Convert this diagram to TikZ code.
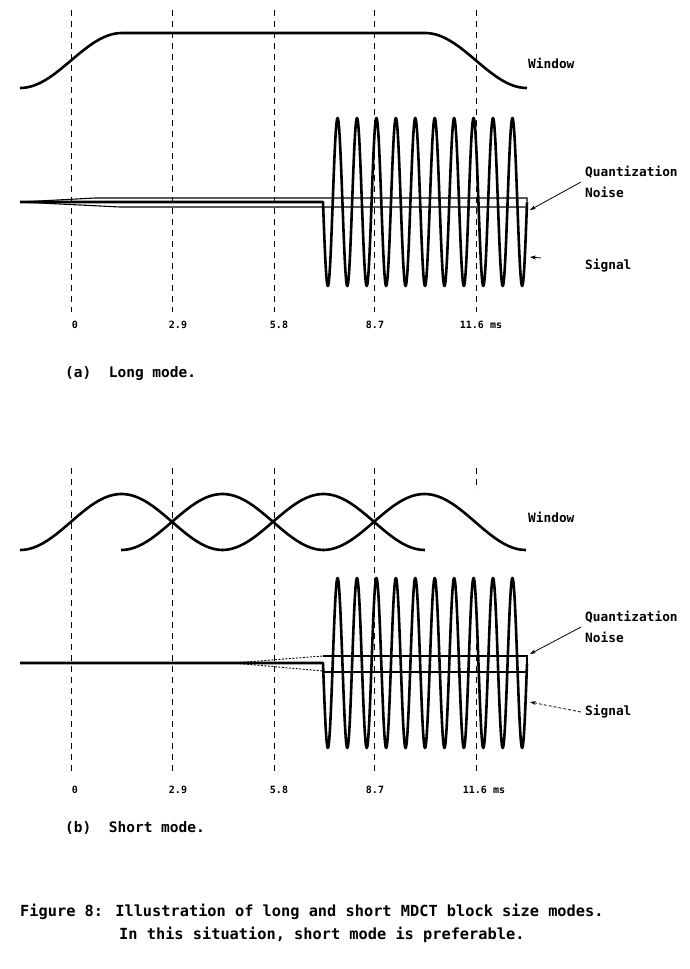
\documentclass[tikz,border=0pt]{standalone}
\usepackage{fontspec}
\newfontfamily\plotfont{DejaVu Sans Mono}
\usetikzlibrary{arrows.meta}
\tikzset{%
  tipA/.tip={Stealth[length=6pt,width=4pt]},
  wave/.style={line width=2.6pt, line join=round},
  guide/.style={line width=0.9pt, dash pattern=on 6pt off 5pt},
  noiseline/.style={line width=1.1pt},
  faint/.style={line width=0.9pt, dash pattern=on 2pt off 1.5pt},
  lbl/.style={font=\plotfont\bfseries\fontsize{12.8}{21}\selectfont, inner sep=0pt, anchor=west, align=left},
  tick/.style={font=\plotfont\bfseries\fontsize{10}{12}\selectfont, inner sep=0pt},
  modelbl/.style={font=\plotfont\bfseries\fontsize{14.5}{17}\selectfont, inner sep=0pt, anchor=west},
  figcap/.style={font=\plotfont\bfseries\fontsize{15.3}{18}\selectfont, inner sep=0pt, anchor=west}
}

\begin{document}
\begin{tikzpicture}[x=1pt,y=-1pt]
\useasboundingbox (0,0) rectangle (689,969);
% (a) long mode
\foreach \xx in {71,172,274,374,476} \draw[guide] (\xx,10) -- (\xx,312);
\draw[wave] (20,88) -- plot[domain=20:122,samples=40] (\x,{88-27.5*(1-cos(1.7647*(\x-20)))})
  -- (425,33) -- plot[domain=425:527,samples=40] (\x,{33+27.5*(1-cos(1.7647*(\x-425)))});
\draw[wave] (20,202) -- (323,202) -- plot[domain=323:527,samples=421] (\x,{202+84*sin(18.528*(\x-323))});
\draw[noiseline] (20,202) -- (95,198) -- (527,198) -- (527,207) -- (120,207) -- cycle;
\node[lbl] (win1) at (528,63) {Window};
\node[lbl] (qn1) at (585,182) {Quantization\\Noise};
\node[lbl] (sg1) at (585,266) {Signal};
\coordinate (qe1) at (530,210);
\coordinate (ss1) at (541,258);
\coordinate (se1) at (530,257);
\draw[-tipA, line width=0.8pt] ([xshift=-4pt]qn1.west) -- (qe1);
\draw[-tipA, line width=0.8pt] (ss1) -- (se1);
\node[tick] (ta1) at (75,325) {0};
\node[tick] (ta2) at (178,325) {2.9};
\node[tick] (ta3) at (279,325) {5.8};
\node[tick] (ta4) at (375,325) {8.7};
\node[tick] (ta5) at (481,325) {11.6 ms};
\node[modelbl] (moda) at (65,373) {(a)\ \ Long mode.};
% (b) short mode
\foreach \xx in {71,172,274,374} \draw[guide] (\xx,468) -- (\xx,773);
\draw[guide] (476,468) -- (476,490);
\draw[guide] (476,600) -- (476,773);
\foreach \a in {20,121,222,323}
  \draw[wave] plot[domain=\a:\a+203,samples=70] (\x,{550-28*(1-cos(1.7734*(\x-\a)))});
\draw[wave] (20,663) -- (323,663) -- plot[domain=323:527,samples=421] (\x,{663+85*sin(18.528*(\x-323))});
\draw[faint] (233,663) -- (323,656);
\draw[faint] (233,663) -- (323,671);
\draw[noiseline] (323,656) -- (527,656) -- (527,672) -- (323,672);
\node[lbl] (win2) at (528,517) {Window};
\node[lbl] (qn2) at (585,627) {Quantization\\Noise};
\node[lbl] (sg2) at (585,712) {Signal};
\coordinate (qe2) at (530,654);
\coordinate (se2) at (530,702);
\draw[-tipA, line width=0.8pt] ([xshift=-4pt]qn2.west) -- (qe2);
\draw[-tipA, line width=0.8pt, dash pattern=on 3pt off 2pt] ([xshift=-4pt]sg2.west) -- (se2);
\node[tick] (tb1) at (75,790) {0};
\node[tick] (tb2) at (178,790) {2.9};
\node[tick] (tb3) at (279,790) {5.8};
\node[tick] (tb4) at (375,790) {8.7};
\node[tick] (tb5) at (484,790) {11.6 ms};
\node[modelbl] (modb) at (65,828) {(b)\ \ Short mode.};
% caption
\node[figcap] (cap1) at (20,912) {Figure 8: Illustration of long and short MDCT block size modes.};
\node[figcap] (cap2) at (119,935) {In this situation, short mode is preferable.};
\end{tikzpicture}
\end{document}
